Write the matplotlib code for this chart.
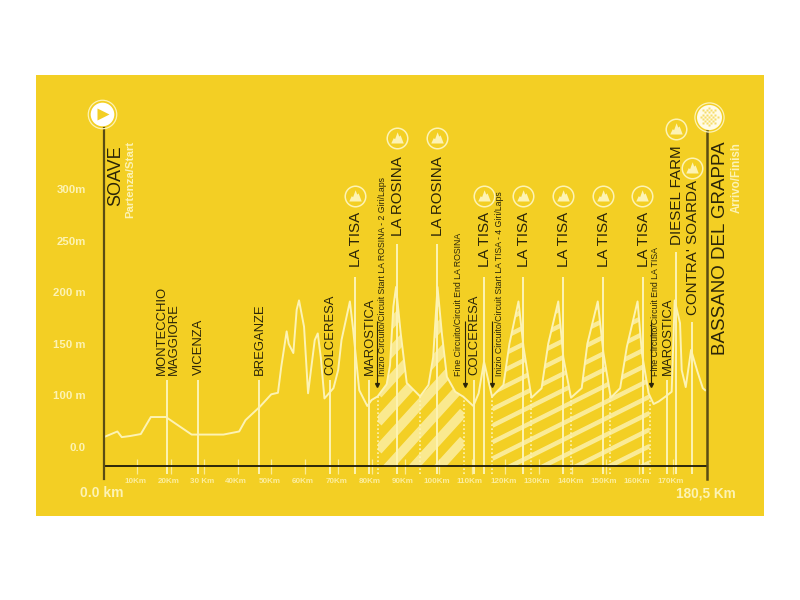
import numpy as np
import matplotlib
matplotlib.use('Agg')
import matplotlib.pyplot as plt
from matplotlib.path import Path
from matplotlib.patches import PathPatch

# race profile, km and labelled metres
profile_km = [0.3, 4, 5.3, 7.8, 11, 14, 18.5, 26.2, 35.7, 40.4, 42.3, 46.6, 50, 52, 53, 54.6, 55.2, 56.6, 57.6,
              58.3, 59.8, 61, 63, 63.9, 64.8, 65.9, 68.6, 70, 71, 73.5, 74.5, 76.3, 78.7, 80, 81.8, 84.5, 85.5,
              86.5, 87.3, 88.7, 90.5, 94.5, 97, 98.4, 99.7, 101, 102.5, 105, 107.4, 110.4, 112, 113.6, 116,
              119.4, 121.2, 123.9, 125.4, 127.8, 130.8, 132.8, 135.8, 137.3, 139.6, 142.8, 144.5, 147.6, 149.3,
              151.5, 154.3, 156.3, 159.5, 160.8, 162.8, 164.3, 165.8, 167.8, 169.7, 170.6, 172.2, 172.7, 173.9,
              175.5, 177.4, 179, 179.7]
profile_m = [62, 67, 61.5, 62.6, 64.5, 81, 81, 64, 64, 67, 78, 91, 103, 104.5, 130, 164, 152, 143, 185,
             194, 168.5, 104, 155.6, 162, 139, 99, 109, 126.5, 155.6, 193, 165, 107, 91.7, 97.5, 101, 112.7, 131,
             188, 207, 162, 114, 101, 112, 139, 207, 162, 120, 105.5, 100.7, 91.7, 104, 134.6, 100.7,
             112, 152, 193, 149, 99.7, 108.8, 152, 193, 139, 99.7, 109, 152, 193, 143,
             99.7, 109, 149, 193, 143, 104, 93.6, 96, 100.7, 105.5, 194, 172, 126.5, 110,
             146, 125, 109, 107]

tick_km = [10, 20, 30, 40, 50, 60, 70, 80, 90, 100, 110, 120, 130, 140, 150, 160, 170]
tick_labels = ['10Km', '20Km', '30 Km', '40Km', '50Km', '60Km', '70Km', '80Km', '90Km', '100Km', '110Km',
               '120Km', '130Km', '140Km', '150Km', '160Km', '170Km']
alt_ticks = [50, 100, 150, 200, 250, 300]
alt_labels = ['0.0', '100 m', '150 m', '200 m', '250m', '300m']

# places: name, km, top of the line, bottom of the text
place_names = ['MONTECCHIO\nMAGGIORE', 'VICENZA', 'BREGANZE', 'COLCERESA', 'LA TISA', 'MAROSTICA', 'LA ROSINA',
               'LA ROSINA', 'COLCERESA', 'LA TISA', 'LA TISA', 'LA TISA', 'LA TISA', 'LA TISA', 'MAROSTICA',
               'DIESEL FARM', "CONTRA' SOARDA"]
place_km = [18.8, 28.1, 46.3, 67.5, 75, 79.1, 87.6, 99.6, 110.5, 113.6, 125.3, 137.2, 149.2, 161, 168.2, 170.9, 175.7]
place_top = [116.5, 116.5, 116.5, 116.5, 217, 116.5, 249, 249, 116.5, 217, 217, 217, 217, 217, 116.5, 241, 173]
place_text = [122, 122, 122, 122, 226, 122, 256, 256, 122, 226, 226, 226, 226, 226, 122, 248, 179.5]

climb_km = [75, 87.6, 99.6, 113.6, 125.3, 137.2, 149.2, 160.8, 171, 175.8]
climb_m = [295, 351, 351, 295, 295, 295, 295, 295, 360, 322]

dotted_km = [81.9, 94.5, 107.5, 116.1, 127.7, 139.6, 151.3, 163.1]
arrow_km = [81.7, 107.8, 116.1, 163.4]

circuit_texts = ['Inizio Circuito/Circuit Start LA ROSINA - 2 Giri/Laps', 'Fine Circuito/Circuit End LA ROSINA',
                 'Inizio Circuito/Circuit Start LA TISA - 4 Giri/Laps', 'Fine Circuito/Circuit End LA TISA']
circuit_text_km = [83.4, 106.1, 118.1, 165]

base_m = 33.1
yellow = '#f3cf24'
pale = '#fdf3b4'
dark = '#5a4d14'
ink = '#2b2508'

plt.rcParams['font.family'] = ['Liberation Sans', 'DejaVu Sans']

fig = plt.figure(figsize=(8, 6), dpi=100)
ax = fig.add_axes([36 / 800, 1 - 516 / 600, 728 / 800, 441 / 600])
ax.set_facecolor(yellow)
ax.set_xlim(-20.33, 197.3)
ax.set_ylim(-14.9, 412.4)
ax.set_xticks([])
ax.set_yticks([])
for s in ax.spines.values():
    s.set_visible(False)


def stripes(start, end, px_slope, px_period, px_width, alpha):
    # pale bands, clipped to the area below the profile
    xs = np.linspace(start, end, 200)
    ys = np.interp(xs, profile_km, profile_m)
    verts = list(zip(xs, ys)) + [(end, base_m), (start, base_m)]
    clip = PathPatch(Path(verts + [verts[0]]), fc='none', ec='none')
    ax.add_patch(clip)
    slope = px_slope * 3.345 / 1.032
    period = px_period / 1.032
    offset = base_m - slope * (end - start) - 300
    x = np.array([start, end])
    while offset < 260:
        line, = ax.plot(x, offset + slope * (x - start), color=pale, lw=px_width * 0.72, alpha=alpha,
                        solid_capstyle='butt', zorder=2)
        line.set_clip_path(clip)
        offset += period


stripes(81.9, 107.5, 1.1, 28, 9.5, 0.75)
stripes(116.1, 163.1, 0.5, 16.5, 4.5, 0.8)

# axis lines
ax.plot([0, 180.3], [base_m, base_m], color='#1d1a08', lw=1.3, zorder=6)
ax.plot([0, 0], [20.5, 360.7], color=dark, lw=1.6, zorder=6)
ax.plot([180.3, 180.3], [20.5, 358], color=dark, lw=1.8, zorder=6)

ax.vlines(tick_km, 26, 40, color=pale, lw=0.9, alpha=0.8, zorder=5)
ax.vlines(place_km, 26, place_top, color=pale, lw=1.4, zorder=4)

dotted_top = np.interp(dotted_km, profile_km, profile_m)
ax.vlines(dotted_km, 26, dotted_top, color=pale, lw=1.2, linestyles=(0, (1, 1.4)), zorder=4)

ax.plot(profile_km, profile_m, color=pale, lw=1.4, zorder=5, solid_joinstyle='round')

# texts
for name, km, bottom in zip(place_names, place_km, place_text):
    climb = name in ('LA TISA', 'LA ROSINA', 'DIESEL FARM', "CONTRA' SOARDA")
    ax.text(km + 0.3, bottom, name, rotation=90, ha='center', va='bottom', fontsize=10.9 if climb else 9.4,
            color=ink, linespacing=0.95, multialignment='left', zorder=7)
ax.text(3.6, 285.4, 'SOAVE', rotation=90, ha='center', va='bottom', fontsize=13, color=ink)
ax.text(7.8, 273.4, 'Partenza/Start', rotation=90, ha='center', va='bottom', fontsize=8.2, color=pale,
        fontweight='bold')
ax.text(184.3, 140.7, 'BASSANO DEL GRAPPA', rotation=90, ha='center', va='bottom', fontsize=13.5, color=ink)
ax.text(189.2, 278.3, 'Arrivo/Finish', rotation=90, ha='center', va='bottom', fontsize=8.3, color=pale,
        fontweight='bold')

for txt, km in zip(circuit_texts, circuit_text_km):
    ax.text(km, 120.3, txt, rotation=90, ha='center', va='bottom', fontsize=6.3, color=ink, zorder=7)

ax.vlines(arrow_km, 112, 174, color=ink, lw=0.8, zorder=7)
ax.plot(arrow_km, [112] * 4, 'v', color=ink, ms=2.8, zorder=7)

for km, lab in zip(tick_km, tick_labels):
    ax.text(km - 0.6, 18.6, lab, ha='center', va='center', fontsize=5.8, color=pale, alpha=0.85, fontweight='bold')
for m, lab in zip(alt_ticks, alt_labels):
    ax.text(-5.4, m + 1, lab, ha='right', va='center', fontsize=8.2, color=pale, fontweight='bold')
ax.text(-0.6, 7, '0.0 km', ha='center', va='center', fontsize=10, color=pale, fontweight='bold')
ax.text(180, 7, '180,5 Km', ha='center', va='center', fontsize=9.8, color=pale, fontweight='bold')

# climb icons
mountain = Path([(-1, -0.8), (-0.6, 0.05), (-0.38, -0.1), (0.02, 1), (0.28, 0.3), (0.5, 0.5), (1, -0.8), (-1, -0.8)],
                closed=True)
ax.plot(climb_km, climb_m, 'o', ms=14.8, mfc='none', mec=pale, mew=1.1, ls='none', zorder=8)
ax.plot(climb_km, climb_m, marker=mountain, ms=9, color=pale, mec='none', ls='none', zorder=8)

# start and finish icons
ax.plot([-0.7], [375], 'o', ms=20.5, mfc='none', mec=pale, mew=0.9, zorder=8)
ax.plot([-0.7], [375], 'o', ms=17, color='white', mec='none', zorder=8)
ax.plot([-0.2], [375], marker='>', ms=9, color=yellow, mec='none', zorder=9)

ax.plot([180.9], [372], 'o', ms=21, mfc='none', mec=pale, mew=0.9, zorder=8)
ax.plot([180.9], [372], 'o', ms=18, color='#fffbe6', mec='none', zorder=8)
for i in range(-4, 5):
    for j in range(-4, 5):
        if (i + j) % 2 == 0 and i * i + j * j <= 18:
            ax.plot(180.9 + i * 2.1 / 3.345, 372 + j * 2.1 / 1.032, 's', ms=1.5, color='#f6dc6a', mec='none', zorder=9)

fig.savefig('out.png', dpi=100, facecolor='white')
